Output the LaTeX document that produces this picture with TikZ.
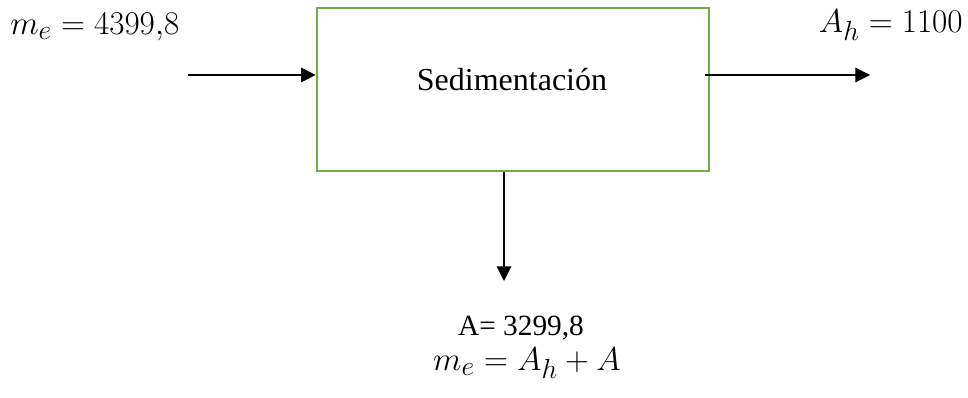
\documentclass[tikz,border=0pt]{standalone}
\usepackage{fontspec}
\setmainfont{Liberation Serif}
\newfontfamily\tnr{Liberation Serif}
\usetikzlibrary{arrows.meta,calc}
\definecolor{boxgreen}{RGB}{112,173,71}
\begin{document}
\begin{tikzpicture}[x=0.75pt,y=-0.75pt]
\tikzset{
  flow/.style={draw=black, line width=0.8pt, -{Triangle[length=11pt,width=11pt]}},
  procbox/.style={draw=boxgreen, line width=2pt, minimum width=294pt, minimum height=122.25pt, inner sep=0pt},
  lbl/.style={inner sep=0pt, font=\fontsize{24.88}{30}\selectfont},
  txt/.style={inner sep=0pt, font=\tnr\fontsize{24}{30}\selectfont}
}
\useasboundingbox (0,0) rectangle (968,398);
\node[procbox] (box) at (513,89.5) {};
\node[txt] (t) at (512,80) {Sedimentación};
\node[lbl, anchor=west] (me) at (10,27) {$m_e = 4399{,}8$};
\node[lbl, anchor=east] (ah) at (963,25) {$A_h = 1100$};
\node[txt, font=\tnr\fontsize{22}{26}\selectfont] (a) at (521,328) {A= 3299,8};
\node[lbl] (bal) at (527,363) {$m_e = A_h + A$};
\coordinate (inS) at (188,75);
\coordinate (outE) at (870,75);
\coordinate (downE) at (504,281);
\draw[flow] (inS) -- (inS -| box.west);
\draw[flow] ($(outE -| box.east)+(-5,0)$) -- (outE);
\draw[flow] (downE |- box.south) -- (downE);
\end{tikzpicture}
\end{document}
